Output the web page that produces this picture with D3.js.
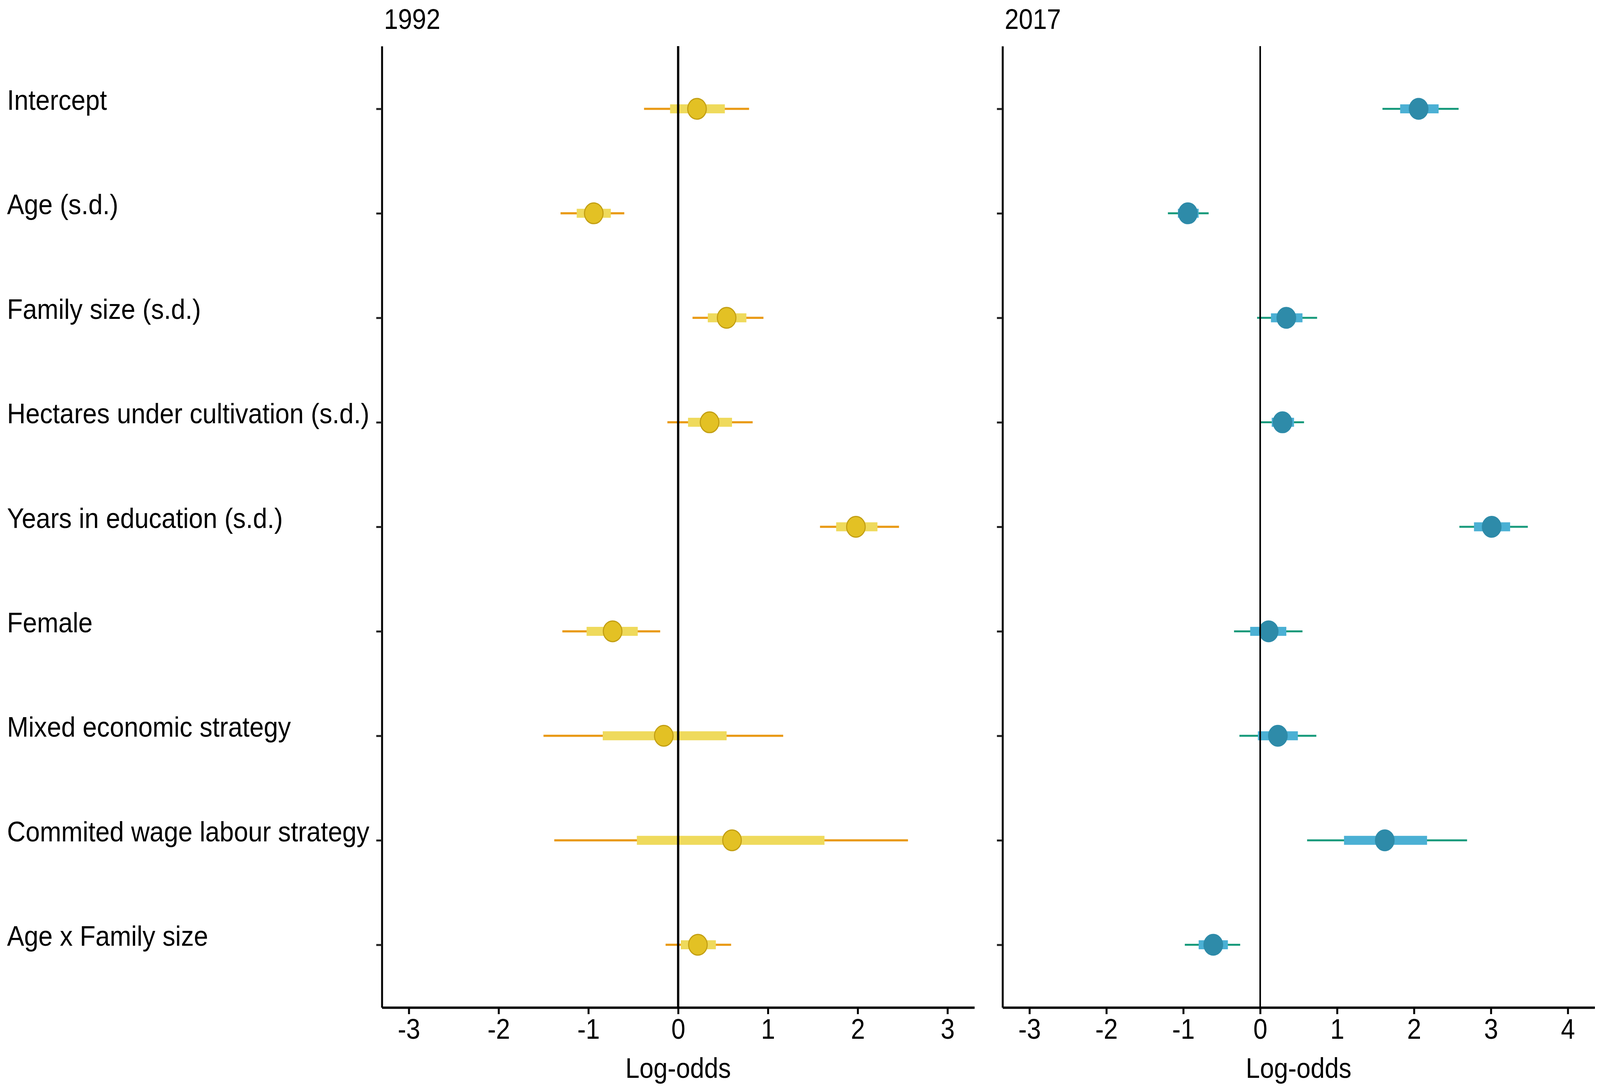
<!DOCTYPE html>
<html>
<head>
<meta charset="utf-8">
<script src="https://cdn.jsdelivr.net/npm/d3@7"></script>
<style>
  html, body { margin: 0; padding: 0; background: #ffffff; overflow: hidden; width: 100%; height: 100%; }
  svg { display: block; position: absolute; left: 0; top: 0; }
  text { font-family: "Liberation Sans", Arial, sans-serif; fill: #000; }
</style>
</head>
<body>
<svg id="chart"></svg>
<script>
// ---------------- DATA ----------------
const categories = [
  "Intercept",
  "Age (s.d.)",
  "Family size (s.d.)",
  "Hectares under cultivation (s.d.)",
  "Years in education (s.d.)",
  "Female",
  "Mixed economic strategy",
  "Commited wage labour strategy",
  "Age x Family size"
];

const panelTitles = ["1992", "2017"];
const xTicks1992 = [-3, -2, -1, 0, 1, 2, 3];
const xTicks2017 = [-3, -2, -1, 0, 1, 2, 3, 4];
const xLimits1992 = [-3, 3];
const xLimits2017 = [-3, 4];
const xTitle = "Log-odds";

// 1992 posterior summaries
const est1992     = [0.21, -0.94, 0.54, 0.35, 1.98, -0.73, -0.16, 0.60, 0.22];
const outerLo1992 = [-0.38, -1.31, 0.16, -0.12, 1.58, -1.29, -1.50, -1.38, -0.14];
const innerLo1992 = [-0.09, -1.13, 0.33, 0.11, 1.76, -1.02, -0.84, -0.46, 0.03];
const innerHi1992 = [0.52, -0.75, 0.76, 0.60, 2.22, -0.45, 0.54, 1.63, 0.42];
const outerHi1992 = [0.79, -0.60, 0.95, 0.83, 2.46, -0.20, 1.17, 2.56, 0.59];

// 2017 posterior summaries
const est2017     = [2.06, -0.94, 0.34, 0.29, 3.01, 0.11, 0.23, 1.62, -0.61];
const outerLo2017 = [1.59, -1.20, -0.04, 0.01, 2.59, -0.34, -0.27, 0.61, -0.98];
const innerLo2017 = [1.82, -1.07, 0.14, 0.15, 2.78, -0.13, -0.03, 1.09, -0.80];
const innerHi2017 = [2.32, -0.80, 0.55, 0.44, 3.25, 0.34, 0.49, 2.17, -0.42];
const outerHi2017 = [2.58, -0.67, 0.74, 0.57, 3.48, 0.55, 0.73, 2.69, -0.26];

// ---------------- LAYOUT / STYLE ----------------
const W = 4550, H = 2784;
const vw = window.innerWidth || W, vh = window.innerHeight || H;
const svg = d3.select("#chart")
  .attr("width", vw).attr("height", vh)
  .attr("viewBox", `0 0 ${W} ${H}`)
  .attr("preserveAspectRatio", "none");
svg.append("rect").attr("width", W).attr("height", H).attr("fill", "#ffffff");

const panelTop = 118, panelBottom = 2578;
const fontAxis = 72, fontLabel = 73;

const panels = [
  {
    title: panelTitles[0], left: 1086, right: 2771, limits: xLimits1992, ticks: xTicks1992,
    est: est1992, oLo: outerLo1992, iLo: innerLo1992, iHi: innerHi1992, oHi: outerHi1992,
    outerCol: "#E99A16", innerCol: "#EFDA5C", pointFill: "#E3C124", pointStroke: "#C29E12",
    outerW: 5.5, zeroW: 6.5, showLabels: true
  },
  {
    title: panelTitles[1], left: 2851, right: 4535, limits: xLimits2017, ticks: xTicks2017,
    est: est2017, oLo: outerLo2017, iLo: innerLo2017, iHi: innerHi2017, oHi: outerHi2017,
    outerCol: "#179A7B", innerCol: "#4BB0D4", pointFill: "#2E8BA9", pointStroke: "#2E8BA9",
    outerW: 5, zeroW: 4.5, showLabels: false
  }
];

const y = d3.scalePoint().domain(categories).range([panelTop, panelBottom]).padding(0.6);

panels.forEach(p => {
  const span = p.limits[1] - p.limits[0];
  const x = d3.scaleLinear()
    .domain([p.limits[0] - 0.05 * span, p.limits[1] + 0.05 * span])
    .range([p.left, p.right]);

  const g = svg.append("g");

  const rows = categories.map((c, i) => ({
    cat: c, m: p.est[i], ll: p.oLo[i], l: p.iLo[i], h: p.iHi[i], hh: p.oHi[i]
  }));

  // outer intervals
  g.selectAll("line.outer").data(rows).join("line")
    .attr("class", "outer")
    .attr("x1", d => x(d.ll)).attr("x2", d => x(d.hh))
    .attr("y1", d => y(d.cat)).attr("y2", d => y(d.cat))
    .attr("stroke", p.outerCol).attr("stroke-width", p.outerW);

  // inner intervals
  g.selectAll("line.inner").data(rows).join("line")
    .attr("class", "inner")
    .attr("x1", d => x(d.l)).attr("x2", d => x(d.h))
    .attr("y1", d => y(d.cat)).attr("y2", d => y(d.cat))
    .attr("stroke", p.innerCol).attr("stroke-width", 23);

  // points
  g.selectAll("circle.pt").data(rows).join("circle")
    .attr("class", "pt")
    .attr("cx", d => x(d.m)).attr("cy", d => y(d.cat))
    .attr("r", 26.5)
    .attr("fill", p.pointFill)
    .attr("stroke", p.pointStroke).attr("stroke-width", 3);

  // zero reference line
  g.append("line")
    .attr("x1", x(0)).attr("x2", x(0))
    .attr("y1", panelTop).attr("y2", panelBottom)
    .attr("stroke", "#000").attr("stroke-width", p.zeroW);

  // x axis
  const xAxis = d3.axisBottom(x).tickValues(p.ticks).tickFormat(d3.format("d"))
    .tickSize(17).tickSizeOuter(0).tickPadding(12);
  const xg = g.append("g").attr("transform", `translate(0,${panelBottom})`).call(xAxis);
  xg.select(".domain").attr("stroke", "#000").attr("stroke-width", 6);
  xg.selectAll(".tick line").attr("stroke", "#000").attr("stroke-width", 5.5);
  xg.selectAll(".tick text")
    .attr("font-size", fontAxis).attr("font-family", "Liberation Sans, Arial, sans-serif")
    .attr("fill", "#000")
    .text(d => d < 0 ? "-" + Math.abs(d) : String(d));

  // y axis
  const yAxis = d3.axisLeft(y).tickSize(16).tickSizeOuter(0)
    .tickFormat(p.showLabels ? (d => d) : (() => ""));
  const yg = g.append("g").attr("transform", `translate(${p.left},0)`).call(yAxis);
  yg.select(".domain").attr("stroke", "#000").attr("stroke-width", 5.5);
  yg.selectAll(".tick line").attr("stroke", "#222").attr("stroke-width", 5);
  yg.selectAll(".tick text")
    .attr("font-size", fontLabel).attr("font-family", "Liberation Sans, Arial, sans-serif")
    .attr("fill", "#000")
    .attr("text-anchor", "start")
    .attr("x", 20 - p.left)
    .attr("dy", null)
    .attr("y", 2);

  // panel title
  g.append("text")
    .attr("x", p.left + 6).attr("y", 74)
    .attr("font-size", fontAxis)
    .text(p.title);

  // x title
  g.append("text")
    .attr("x", (p.left + p.right) / 2).attr("y", 2758)
    .attr("text-anchor", "middle")
    .attr("font-size", fontAxis)
    .text(xTitle);
});
</script>
</body>
</html>
